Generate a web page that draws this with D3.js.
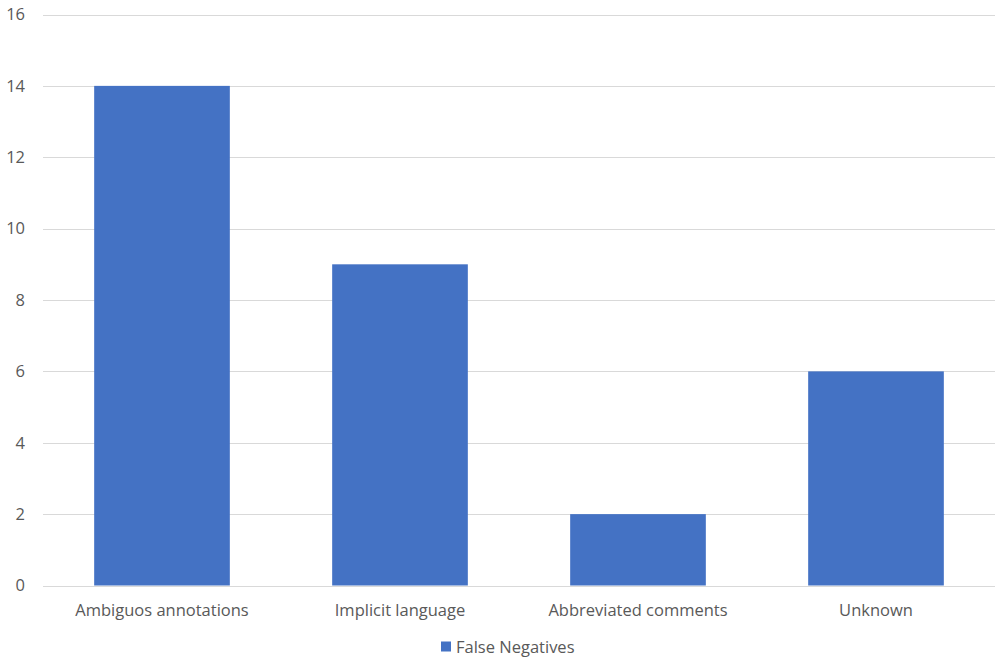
<!DOCTYPE html>
<html>
<head>
<meta charset="utf-8">
<script src="https://cdn.jsdelivr.net/npm/d3@7"></script>
<style>
  html, body { margin: 0; padding: 0; background: #fff; }
  svg { display: block; }
  text { font-family: "Open Sans", "Liberation Sans", sans-serif; fill: #595959; }
</style>
</head>
<body>
<svg id="chart" width="995" height="659"></svg>
<script>
// Counts of false negatives by cause
const categories = ["Ambiguos annotations", "Implicit language", "Abbreviated comments", "Unknown"];
const falseNegatives = [14, 9, 2, 6];
const yTicks = [0, 2, 4, 6, 8, 10, 12, 14, 16];
const seriesName = "False Negatives";

const width = 995, height = 659;
const margin = { top: 14.5, right: 0, bottom: 73.5, left: 43 };
const barColor = "#4472C4";
const fontSize = 16.5;

const svg = d3.select("#chart");

const x = d3.scaleBand()
  .domain(categories)
  .range([margin.left, width - margin.right])
  .paddingInner(0.43)
  .paddingOuter(0.215);

const y = d3.scaleLinear()
  .domain([0, 16])
  .range([height - margin.bottom, margin.top]);

// horizontal gridlines
svg.append("g")
  .selectAll("line")
  .data(yTicks)
  .join("line")
  .attr("x1", margin.left)
  .attr("x2", width - margin.right)
  .attr("y1", d => Math.round(y(d)) + 0.5)
  .attr("y2", d => Math.round(y(d)) + 0.5)
  .attr("stroke", "#d9d9d9")
  .attr("stroke-width", 1);

// y tick labels
svg.append("g")
  .selectAll("text")
  .data(yTicks)
  .join("text")
  .attr("x", 25)
  .attr("y", d => y(d))
  .attr("dy", "0.35em")
  .attr("text-anchor", "end")
  .attr("font-size", fontSize)
  .text(d => d);

// bars
svg.append("g")
  .selectAll("rect")
  .data(categories)
  .join("rect")
  .attr("x", d => x(d))
  .attr("width", x.bandwidth())
  .attr("y", (d, i) => y(falseNegatives[i]))
  .attr("height", (d, i) => y(0) - y(falseNegatives[i]))
  .attr("fill", barColor);

// category labels
svg.append("g")
  .selectAll("text")
  .data(categories)
  .join("text")
  .attr("x", d => x(d) + x.bandwidth() / 2)
  .attr("y", y(0) + 30)
  .attr("text-anchor", "middle")
  .attr("font-size", fontSize)
  .text(d => d);

// legend
const legend = svg.append("g").attr("transform", "translate(441, 647)");
legend.append("rect")
  .attr("x", 0).attr("y", -5.5)
  .attr("width", 10).attr("height", 10)
  .attr("fill", barColor);
legend.append("text")
  .attr("x", 15).attr("y", 0)
  .attr("dy", "0.35em")
  .attr("font-size", fontSize)
  .text(seriesName);
</script>
</body>
</html>
